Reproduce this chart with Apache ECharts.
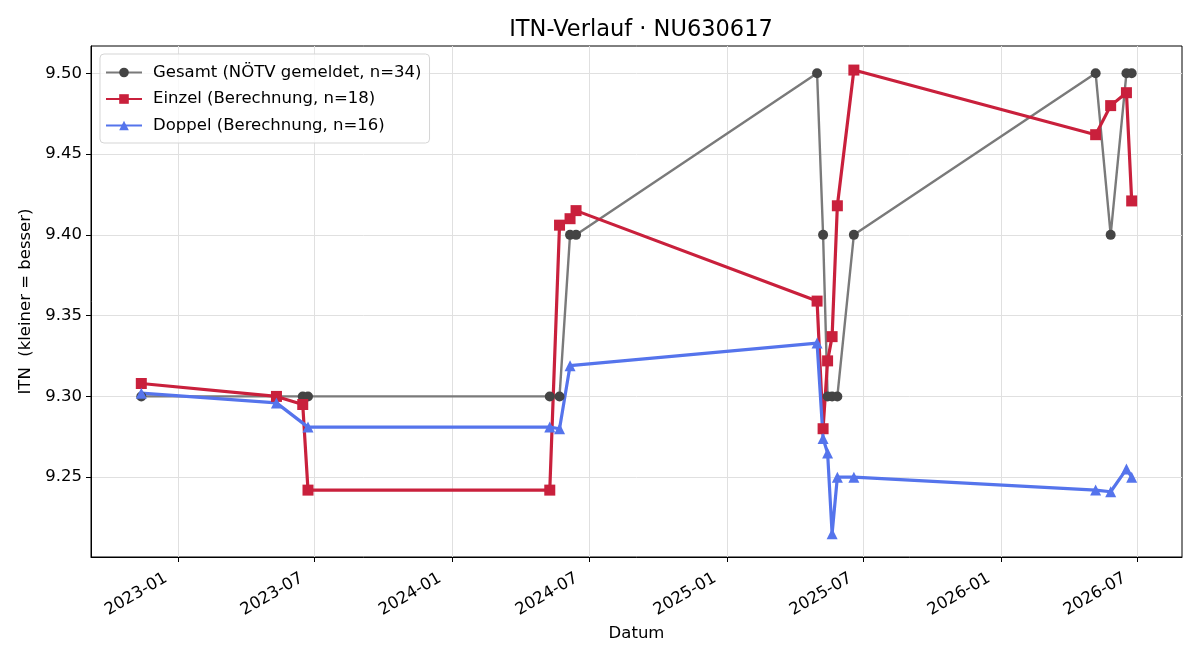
<!DOCTYPE html>
<html>
<head>
<meta charset="utf-8">
<title>ITN-Verlauf</title>
<script src="https://cdn.jsdelivr.net/npm/echarts@6/dist/echarts.min.js"></script>
<style>
  html, body { margin: 0; padding: 0; background: #fff; }
  #chart { width: 1200px; height: 660px; }
</style>
</head>
<body>
<div id="chart"></div>
<script>
// Daten
const gesamtDates = ['2022-11-13', '2023-06-16', '2023-06-23', '2024-05-10', '2024-05-23', '2024-06-06', '2024-06-14',
  '2025-05-01', '2025-05-09', '2025-05-15', '2025-05-21', '2025-05-28', '2025-06-19',
  '2026-05-07', '2026-05-27', '2026-06-17', '2026-06-24']
const gesamtValues = [9.30, 9.30, 9.30, 9.30, 9.30, 9.40, 9.40,
  9.50, 9.40, 9.30, 9.30, 9.30, 9.40,
  9.50, 9.40, 9.50, 9.50]

const einzelDates = ['2022-11-13', '2023-05-12', '2023-06-16', '2023-06-23', '2024-05-10', '2024-05-23', '2024-06-06', '2024-06-14',
  '2025-05-01', '2025-05-09', '2025-05-15', '2025-05-21', '2025-05-28', '2025-06-19',
  '2026-05-07', '2026-05-27', '2026-06-17', '2026-06-24']
const einzelValues = [9.308, 9.300, 9.295, 9.242, 9.242, 9.406, 9.410, 9.415,
  9.359, 9.280, 9.322, 9.337, 9.418, 9.502,
  9.462, 9.480, 9.488, 9.421]

const doppelDates = ['2022-11-13', '2023-05-12', '2023-06-23', '2024-05-10', '2024-05-23', '2024-06-06',
  '2025-05-01', '2025-05-09', '2025-05-15', '2025-05-21', '2025-05-28', '2025-06-19',
  '2026-05-07', '2026-05-27', '2026-06-17', '2026-06-24']
const doppelValues = [9.302, 9.296, 9.281, 9.281, 9.280, 9.319,
  9.333, 9.274, 9.265, 9.215, 9.250, 9.250,
  9.242, 9.241, 9.255, 9.250]

const xTickLabels = ['2023-01', '2023-07', '2024-01', '2024-07', '2025-01', '2025-07', '2026-01', '2026-07']
const yTickValues = [9.25, 9.30, 9.35, 9.40, 9.45, 9.50]

const seriesNames = ['Gesamt (NÖTV gemeldet, n=34)', 'Einzel (Berechnung, n=18)', 'Doppel (Berechnung, n=16)']

function toTime(s) {
  const p = s.split('-')
  return Date.UTC(+p[0], +p[1] - 1, p[2] ? +p[2] : 1)
}
function pairs(dates, values) {
  return dates.map((d, i) => [toTime(d), values[i]])
}

const xTicks = xTickLabels.map(toTime)
const font = 'DejaVu Sans, sans-serif'

const chart = echarts.init(document.getElementById('chart'), null, { renderer: 'canvas' })
chart.setOption({
  animation: false,
  textStyle: { fontFamily: font },
  title: {
    text: 'ITN-Verlauf · NU630617',
    left: 636,
    textAlign: 'center',
    top: 14,
    textStyle: { fontFamily: font, fontSize: 22.5, fontWeight: 'normal', color: '#000' }
  },
  legend: {
    orient: 'vertical',
    left: 100,
    top: 54,
    padding: [10, 8, 9, 5],
    itemWidth: 36,
    itemHeight: 12,
    itemGap: 9.5,
    backgroundColor: 'rgba(255,255,255,0.8)',
    borderColor: '#d5d5d5',
    borderWidth: 1,
    borderRadius: 4,
    textStyle: { fontFamily: font, fontSize: 16.5, color: '#000', padding: [0, 0, 0, 6] },
    data: seriesNames
  },
  grid: {
    left: 91,
    right: 18,
    top: 46,
    bottom: 103,
    show: true,
    borderColor: '#000',
    borderWidth: 1
  },
  xAxis: {
    type: 'value',
    min: toTime('2022-09-07'),
    max: toTime('2026-08-30'),
    name: 'Datum',
    nameLocation: 'middle',
    nameGap: 68,
    nameTextStyle: { fontFamily: font, fontSize: 16.5, color: '#000' },
    axisLine: { show: true, lineStyle: { color: '#000', width: 1 } },
    axisTick: { show: true, length: 5, lineStyle: { color: '#000' }, customValues: xTicks },
    axisLabel: {
      customValues: xTicks,
      rotate: 30,
      margin: 13,
      padding: [0, 14, 0, 0],
      fontFamily: font,
      fontSize: 16.5,
      color: '#000',
      formatter: function(v) {
        const i = xTicks.indexOf(v)
        return i >= 0 ? xTickLabels[i] : ''
      }
    },
    splitLine: { show: true, lineStyle: { color: '#e0e0e0', width: 1 } }
  },
  yAxis: {
    type: 'value',
    min: 9.2006,
    max: 9.5169,
    name: 'ITN  (kleiner = besser)',
    nameLocation: 'middle',
    nameGap: 56,
    nameTextStyle: { fontFamily: font, fontSize: 16.5, color: '#000' },
    axisLine: { show: true, lineStyle: { color: '#000', width: 1 } },
    axisTick: { show: true, length: 5, lineStyle: { color: '#000' }, customValues: yTickValues },
    axisLabel: {
      customValues: yTickValues,
      margin: 9,
      fontFamily: font,
      fontSize: 16.5,
      color: '#000',
      formatter: function(v) { return v.toFixed(2) }
    },
    splitLine: { show: true, lineStyle: { color: '#e0e0e0', width: 1 } }
  },
  series: [
    {
      name: seriesNames[0],
      type: 'line',
      data: pairs(gesamtDates, gesamtValues),
      symbol: 'circle',
      symbolSize: 10,
      lineStyle: { color: '#7a7a7a', width: 2.4 },
      itemStyle: { color: '#444444' }
    },
    {
      name: seriesNames[1],
      type: 'line',
      data: pairs(einzelDates, einzelValues),
      symbol: 'rect',
      symbolSize: 11,
      lineStyle: { color: '#c9203c', width: 3.2 },
      itemStyle: { color: '#c9203c' }
    },
    {
      name: seriesNames[2],
      type: 'line',
      data: pairs(doppelDates, doppelValues),
      symbol: 'triangle',
      symbolSize: 11,
      lineStyle: { color: '#5574ec', width: 3.2 },
      itemStyle: { color: '#5574ec' }
    }
  ]
})
</script>
</body>
</html>
